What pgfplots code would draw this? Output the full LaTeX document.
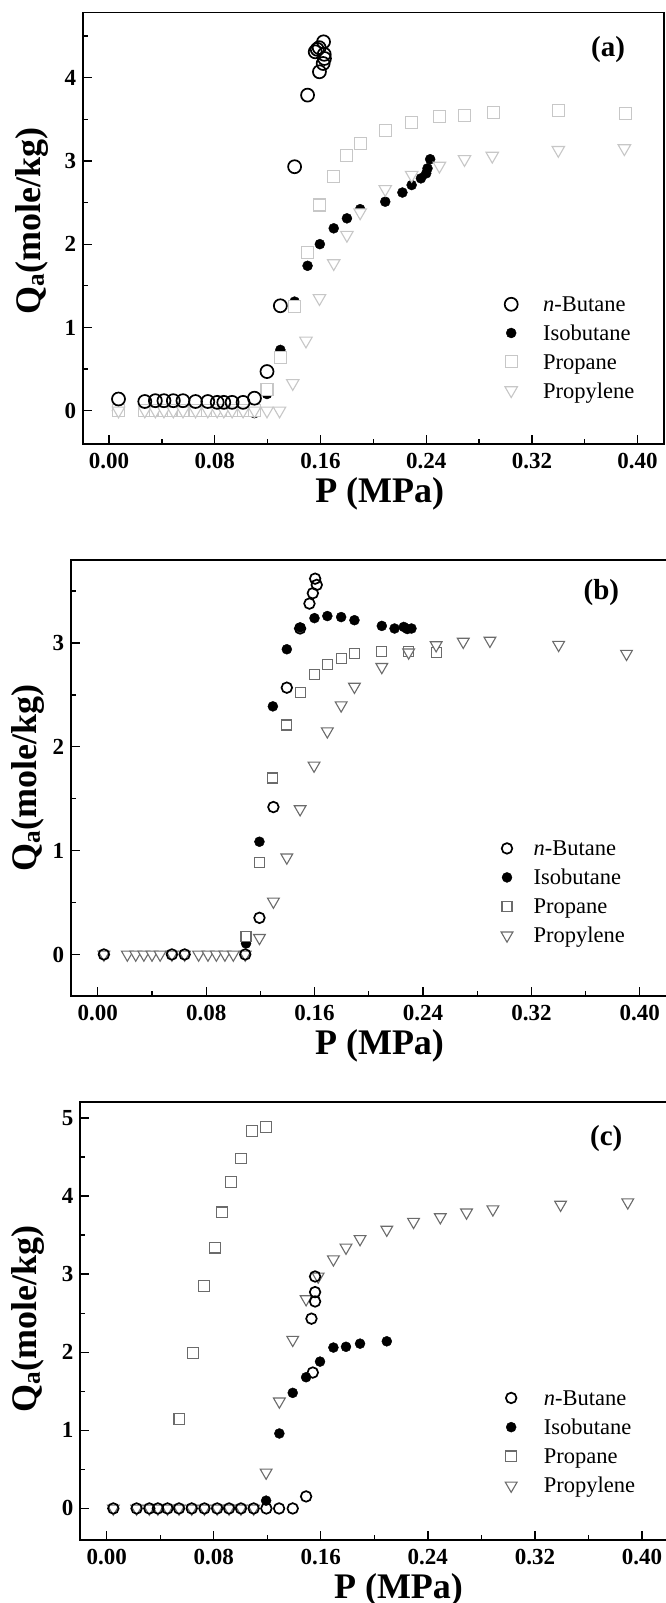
\documentclass[border=0pt]{standalone}
\usepackage{fontspec}
\setmainfont{Liberation Serif}
\usepackage{pgfplots}
\pgfplotsset{compat=1.18}

\definecolor{lightmark}{gray}{0.78}
\definecolor{darkmark}{gray}{0.42}

\pgfplotsset{
  panel/.style={
    scale only axis,
    xmin=-0.02, xmax=0.42,
    ymin=-0.4,
    axis line style={line width=1.6pt},
    every tick/.style={line width=1.3pt, black},
    tick align=inside,
    tick pos=left,
    major tick length=9pt,
    minor tick length=5pt,
    xtick={0,0.08,0.16,0.24,0.32,0.40},
    xticklabels={0.00,0.08,0.16,0.24,0.32,0.40},
    minor xtick={0.04,0.12,0.20,0.28,0.36},
    ytick distance=1,
    minor y tick num=1,
    /pgf/number format/assume math mode=true,
    ticklabel style={font=\fontsize{23}{25}\selectfont\bfseries},
    yticklabel style={xshift=-3pt},
    xticklabel style={yshift=-6pt},
    label style={font=\fontsize{36}{38}\selectfont\bfseries},
    xlabel={P (MPa)},
    ylabel={Q\textsubscript{a}(mole/kg)},
    legend cell align=left,
    legend image code/.code={%
      \pgfpathrectangle{\pgfpoint{0pt}{-2pt}}{\pgfpoint{32pt}{4pt}}%
      \pgfusepath{discard}%
      \draw[##1] plot coordinates {(10pt,2pt)};},
  },
  nbut/.style={only marks, mark=o, mark size=#1,
    mark options={draw=black, line width=1.7pt}},
  iso/.style={only marks, mark=*, mark size=5pt,
    mark options={draw=black, fill=black, line width=0.4pt}},
  prop/.style={only marks, mark=square*, mark size=#1,
    mark options={fill=white, line width=1.1pt}},
  propyl/.style={only marks, mark=triangle*, mark size=#1,
    mark options={fill=white, line width=1.1pt, rotate=180}},
  legfont/.style 2 args={legend style={draw=none, fill=none, inner sep=0pt,
    row sep=0pt, column sep=#2,
    nodes={inner sep=0pt, text height=20pt, text depth=#1,
      font=\fontsize{22.5}{24}\selectfont}}},
}

\begin{document}
\begin{tikzpicture}
\path[use as bounding box] (0,0) rectangle (665pt,1603pt);

% ---------------- (a) ----------------
\begin{axis}[panel,
  at={(82.7pt,1159pt)}, anchor=south west,
  width=581.3pt, height=431.3pt, ymax=4.78,
  xlabel style={at={(axis description cs:0.511,0)}, anchor=center, yshift=-50pt},
  ylabel style={at={(axis description cs:-0.0877,0.517)}, anchor=center},
  legfont={8.7pt}{10pt},
  legend style={at={(axis description cs:0.7196,0.353)}, anchor=north west},
]
\addlegendimage{nbut=6.5pt}
\addlegendentry{\textit{n}-Butane}
\addplot[iso] coordinates {
(0.0060,0.00) (0.1100,-0.03) (0.1195,0.20) (0.1296,0.73) (0.1404,1.31)
(0.1502,1.74) (0.1595,2.00) (0.1700,2.19) (0.1800,2.31) (0.1900,2.42)
(0.2090,2.51) (0.2220,2.62) (0.2290,2.71) (0.2360,2.79) (0.2400,2.85)
(0.2410,2.91) (0.2430,3.02)
};
\addlegendentry{Isobutane}
\addplot[prop=6pt, draw=lightmark] coordinates {
(0.0071,0) (0.0270,0) (0.0350,0) (0.0415,0) (0.0486,0) (0.0559,0)
(0.0654,0) (0.0747,0) (0.0818,0) (0.0868,0) (0.0931,0) (0.1014,0)
(0.1100,0) (0.1195,0.25) (0.1296,0.64) (0.1404,1.25) (0.1502,1.90)
(0.1592,2.47) (0.1700,2.81) (0.1800,3.06) (0.1900,3.21) (0.2090,3.37)
(0.2290,3.46) (0.2500,3.53) (0.2690,3.55) (0.2906,3.58) (0.3404,3.60)
(0.3907,3.57)
};
\addlegendentry{Propane}
\addplot[propyl=7.2pt, draw=lightmark] coordinates {
(0.0071,0) (0.0270,0) (0.0350,0) (0.0415,0) (0.0486,0) (0.0559,0)
(0.0654,0) (0.0747,0) (0.0818,0) (0.0868,0) (0.0931,0) (0.1014,0)
(0.1100,0) (0.1195,0) (0.1290,0) (0.1390,0.33) (0.1490,0.84)
(0.1592,1.35) (0.1700,1.77) (0.1800,2.11) (0.1900,2.38) (0.2090,2.66)
(0.2290,2.83) (0.2500,2.94) (0.2690,3.02) (0.2900,3.06) (0.3400,3.13)
(0.3900,3.15)
};
\addlegendentry{Propylene}
\addplot[nbut=6.5pt, forget plot] coordinates {
(0.0071,0.14) (0.0270,0.11) (0.0350,0.12) (0.0415,0.12) (0.0486,0.12)
(0.0559,0.12) (0.0654,0.11) (0.0747,0.11) (0.0818,0.10) (0.0868,0.10)
(0.0931,0.10) (0.1014,0.10) (0.1100,0.15) (0.1195,0.47) (0.1296,1.26)
(0.1404,2.93) (0.1502,3.79) (0.1592,4.07) (0.1620,4.17) (0.1630,4.23)
(0.1628,4.28) (0.1560,4.31) (0.1575,4.34) (0.1590,4.36) (0.1623,4.43)
};
\node[font=\fontsize{29}{31}\selectfont\bfseries] at (rel axis cs:0.9037,0.9152) {(a)};
\end{axis}

% ---------------- (b) ----------------
\begin{axis}[panel,
  at={(70.7pt,607pt)}, anchor=south west,
  width=596.2pt, height=436pt, ymax=3.8,
  xlabel style={at={(axis description cs:0.518,0)}, anchor=center, yshift=-50pt},
  ylabel style={at={(axis description cs:-0.0721,0.5)}, anchor=center},
  legfont={9pt}{4.7pt},
  legend style={at={(axis description cs:0.7147,0.3676)}, anchor=north west},
]
\addlegendimage{nbut=5.3pt}
\addlegendentry{\textit{n}-Butane}
\addplot[iso] coordinates {
(0.1094,0.106) (0.1193,1.086) (0.1292,2.39) (0.1395,2.94) (0.1493,3.15)
(0.1599,3.24) (0.1694,3.26) (0.1796,3.25) (0.1894,3.22) (0.2096,3.165)
(0.2190,3.14) (0.2258,3.155) (0.2284,3.135) (0.2315,3.14)
};
\addlegendentry{Isobutane}
\addplot[prop=5pt, draw=darkmark] coordinates {
(0.1094,0.177) (0.1193,0.887) (0.1292,1.70) (0.1395,2.21) (0.1493,2.52)
(0.1596,2.70) (0.1694,2.79) (0.1796,2.855) (0.1894,2.90) (0.2096,2.92)
(0.2293,2.92) (0.2497,2.91)
};
\addlegendentry{Propane}
\addplot[propyl=6.8pt, draw=darkmark] coordinates {
(0.0045,0) (0.0218,0) (0.0280,0) (0.0340,0) (0.0400,0) (0.0460,0)
(0.0547,0) (0.0641,0) (0.0744,0) (0.0813,0) (0.0875,0) (0.0938,0)
(0.1000,0) (0.1088,0)
(0.1193,0.16) (0.1296,0.51) (0.1395,0.935) (0.1493,1.40) (0.1596,1.82)
(0.1694,2.15) (0.1796,2.40) (0.1894,2.58) (0.2096,2.77) (0.2294,2.91)
(0.2497,2.98) (0.2697,3.013) (0.2894,3.023) (0.3401,2.983) (0.3902,2.897)
};
\addlegendentry{Propylene}
\addplot[nbut=5.3pt, forget plot] coordinates {
(0.0045,0) (0.0547,0) (0.0641,0) (0.1088,0)
(0.1193,0.353) (0.1296,1.42) (0.1395,2.57) (0.1493,3.14) (0.1562,3.38)
(0.1587,3.48) (0.1616,3.56) (0.1604,3.62)
};
\node[font=\fontsize{29}{31}\selectfont\bfseries] at (rel axis cs:0.890,0.926) {(b)};
\end{axis}

% ---------------- (c) ----------------
\begin{axis}[panel,
  at={(80pt,63.3pt)}, anchor=south west,
  width=588.7pt, height=437.4pt, ymax=5.2,
  xlabel style={at={(axis description cs:0.541,0)}, anchor=center, yshift=-50pt},
  ylabel style={at={(axis description cs:-0.0890,0.505)}, anchor=center},
  legfont={9.2pt}{10.7pt},
  legend style={at={(axis description cs:0.7151,0.3533)}, anchor=north west},
]
\addlegendimage{nbut=5.3pt}
\addlegendentry{\textit{n}-Butane}
\addplot[iso] coordinates {
(0.1191,0.10) (0.1290,0.96) (0.1390,1.48) (0.1490,1.68) (0.1594,1.88)
(0.1694,2.06) (0.1788,2.07) (0.1893,2.11) (0.2093,2.14)
};
\addlegendentry{Isobutane}
\addplot[prop=5.4pt, draw=darkmark] coordinates {
(0.0543,1.146) (0.0643,1.99) (0.0729,2.85) (0.0809,3.34) (0.0859,3.79)
(0.0929,4.18) (0.1001,4.48) (0.1088,4.83) (0.1191,4.88)
};
\addlegendentry{Propane}
\addplot[propyl=6.8pt, draw=darkmark] coordinates {
(0.0049,0) (0.0223,0) (0.0318,0) (0.0382,0) (0.0454,0) (0.0540,0)
(0.0635,0) (0.0730,0) (0.0825,0) (0.0914,0) (0.1003,0) (0.1098,0)
(0.1191,0.46) (0.1290,1.37) (0.1390,2.16) (0.1490,2.68) (0.1580,2.97)
(0.1694,3.19) (0.1788,3.34) (0.1893,3.45) (0.2093,3.57) (0.2293,3.67)
(0.2493,3.73) (0.2689,3.79) (0.2886,3.83) (0.3392,3.89) (0.3894,3.92)
};
\addlegendentry{Propylene}
\addplot[nbut=5.3pt, forget plot] coordinates {
(0.0049,0) (0.0223,0) (0.0318,0) (0.0382,0) (0.0454,0) (0.0540,0)
(0.0635,0) (0.0730,0) (0.0825,0) (0.0914,0) (0.1003,0) (0.1098,0)
(0.1193,0) (0.1288,0) (0.1390,0)
(0.1490,0.154) (0.1540,1.74) (0.1530,2.43) (0.1557,2.65) (0.1557,2.77)
(0.1557,2.97)
};
\node[font=\fontsize{29}{31}\selectfont\bfseries] at (rel axis cs:0.894,0.9163) {(c)};
\end{axis}
\end{tikzpicture}
\end{document}
